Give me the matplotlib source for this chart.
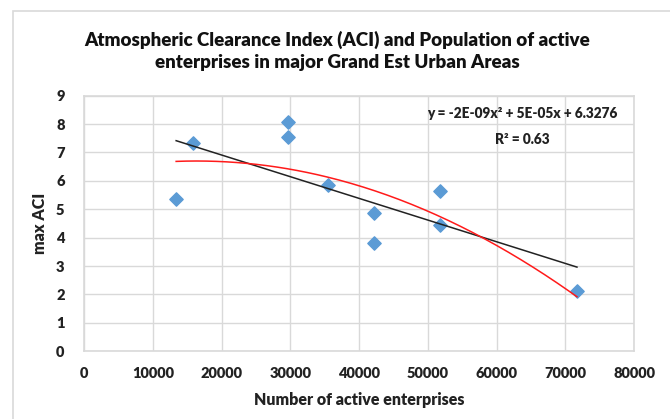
import numpy as np
import matplotlib.pyplot as plt
from matplotlib.patches import Rectangle

plt.rcParams["font.family"] = ["Lato", "DejaVu Sans"]

# values
enterprises = [13400, 15900, 29700, 29700, 35500, 42200, 42200, 51800, 51800, 71700]
max_aci = [5.38, 7.33, 8.08, 7.53, 5.85, 4.88, 3.83, 5.65, 4.43, 2.12]
x_ticks = [0, 10000, 20000, 30000, 40000, 50000, 60000, 70000, 80000]
y_ticks = [0, 1, 2, 3, 4, 5, 6, 7, 8, 9]
equation = "y = -2E-09x² + 5E-05x + 6.3276"
r_squared = "R² = 0.63"

x = np.array(enterprises)
y = np.array(max_aci)

fig = plt.figure(figsize=(6.7, 4.19), dpi=100)
ax = fig.add_axes([0.1254, 0.1616, 0.8209, 0.61])

# chart frame
fig.patches.append(Rectangle((13 / 670, -0.1), 1.2, 1 - 11 / 419 + 0.1,
                             transform=fig.transFigure, fill=False,
                             edgecolor="#d9d9d9", linewidth=1.2))

ax.scatter(x, y, marker="D", s=46, color="#5B9BD5", zorder=3)

xs = np.linspace(x.min(), x.max(), 200)
lin = np.polyfit(x, y, 1)
quad = np.polyfit(x, y, 2)
ax.plot(xs, np.polyval(lin, xs), color="#222222", lw=1.1, zorder=4)
ax.plot(xs, np.polyval(quad, xs), color="#ff1a1a", lw=1.1, zorder=4)

ax.set_xlim(0, 80000)
ax.set_ylim(0, 9)
ax.set_xticks(x_ticks)
ax.set_yticks(y_ticks)
ax.set_xticklabels([str(t) for t in x_ticks], fontweight="heavy", fontsize=10.5, color="#222222")
ax.set_yticklabels([str(t) for t in y_ticks], fontweight="heavy", fontsize=10.5, color="#222222")
ax.tick_params(length=0, pad=11)
ax.tick_params(axis="y", pad=14)
ax.grid(True, color="#d9d9d9", lw=1)
ax.set_axisbelow(True)
for s in ax.spines.values():
    s.set_color("#d9d9d9")
    s.set_linewidth(1.2)

ax.set_xlabel("Number of active enterprises", fontweight="heavy", fontsize=11.5, color="#222222", labelpad=9)
ax.set_ylabel("max ACI", fontweight="heavy", fontsize=11.5, color="#222222", labelpad=6)

ax.text(0.796, 0.93, equation, transform=ax.transAxes, ha="center", va="center",
        fontsize=9.8, fontweight="heavy", color="#222222")
ax.text(0.796, 0.83, r_squared, transform=ax.transAxes, ha="center", va="center",
        fontsize=9.8, fontweight="heavy", color="#222222")

fig.text(337 / 670, 1 - 51 / 419,
         "Atmospheric Clearance Index (ACI) and Population of active\nenterprises in major Grand Est Urban Areas",
         ha="center", va="center", fontsize=13.5, fontweight="heavy", color="#111111", linespacing=1.35)

fig.savefig("out.png", dpi=100)
